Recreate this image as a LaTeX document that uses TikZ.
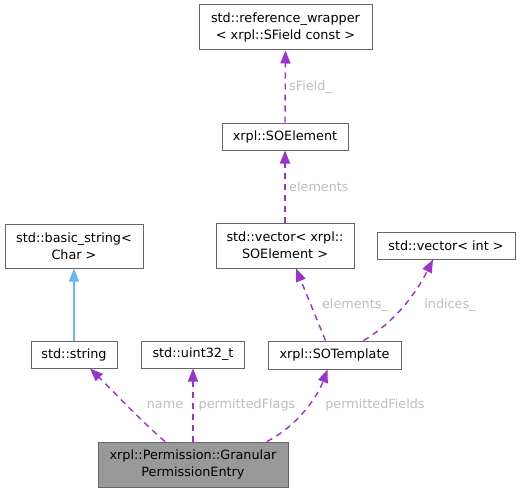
\documentclass[tikz,border=0pt]{standalone}
\usepackage{fontspec}
\setmainfont{DejaVu Sans}
\usetikzlibrary{arrows.meta}
\definecolor{edgepurple}{HTML}{9A32CD}
\definecolor{inhblue}{HTML}{63B8FF}
\definecolor{boxline}{HTML}{666666}
\definecolor{lblgrey}{HTML}{BEBEBE}
\definecolor{mainfill}{HTML}{999999}
\tikzset{
  box/.style={draw=boxline, line width=1pt, fill=white, inner sep=0pt, align=center,
    font=\fontsize{12.8}{16.8}\selectfont},
  dep/.style={draw=edgepurple, line width=1.4pt, dash pattern=on 6pt off 5pt,
    -{Triangle[length=13pt,width=10pt]}},
  inh/.style={draw=inhblue, line width=1.3pt, -{Triangle[length=13pt,width=10pt]}},
  lbl/.style={text=lblgrey, inner sep=0pt, font=\fontsize{12.8}{15}\selectfont}
}
\begin{document}
\begin{tikzpicture}[x=1pt,y=-1pt]
\useasboundingbox[fill=white] (0,0) rectangle (521,492);
\node[box, minimum width=173pt, minimum height=45pt] (refw) at (285.5,27.5) {std::reference\_wrapper\\{}< xrpl::SField const >};
\node[box, minimum width=126pt, minimum height=27pt] (soel) at (285,136.5) {xrpl::SOElement};
\node[box, minimum width=138pt, minimum height=45pt] (vecsoel) at (285,245.5) {std::vector< xrpl::\\SOElement >};
\node[box, minimum width=138pt, minimum height=27pt] (vecint) at (446,245.5) {std::vector< int >};
\node[box, minimum width=138pt, minimum height=44pt] (basic) at (74,246) {std::basic\_string<\\Char >};
\node[box, minimum width=86pt, minimum height=27pt] (str) at (74,354.5) {std::string};
\node[box, minimum width=103pt, minimum height=27pt] (u32) at (193,354.5) {std::uint32\_t};
\node[box, minimum width=133pt, minimum height=28pt] (sot) at (334.5,355) {xrpl::SOTemplate};
\node[box, fill=mainfill, minimum width=190pt, minimum height=45pt] (gpe) at (193,464.5) {xrpl::Permission::Granular\\PermissionEntry};

\draw[dep] (soel.north) -- (refw.south);
\node[lbl, anchor=west] (l1) at (289,87) {sField\_};
\draw[dep] (vecsoel.north) -- (soel.south);
\node[lbl, anchor=west] (l2) at (289,187) {elements};
\draw[inh] (str.north) -- (basic.south);
\draw[dep] ([xshift=-28pt]gpe.north) .. controls (140,420) and (110,388) .. ([xshift=16pt]str.south);
\node[lbl] (l3) at (165,405) {name};
\draw[dep] (gpe.north) -- (u32.south);
\node[lbl] (l4) at (247,405) {permittedFlags};
\draw[dep] ([xshift=74pt]gpe.north) .. controls (300,424) and (318,395) .. ([xshift=-7pt]sot.south);
\node[lbl] (l5) at (375,405) {permittedFields};
\draw[dep] ([xshift=-9pt]sot.north) -- ([xshift=11pt]vecsoel.south);
\node[lbl] (l6) at (355,305) {elements\_};
\draw[dep] ([xshift=29pt]sot.north) .. controls (385,328) and (410,305) .. ([xshift=-13pt]vecint.south);
\node[lbl] (l7) at (450,305) {indices\_};
\end{tikzpicture}
\end{document}
